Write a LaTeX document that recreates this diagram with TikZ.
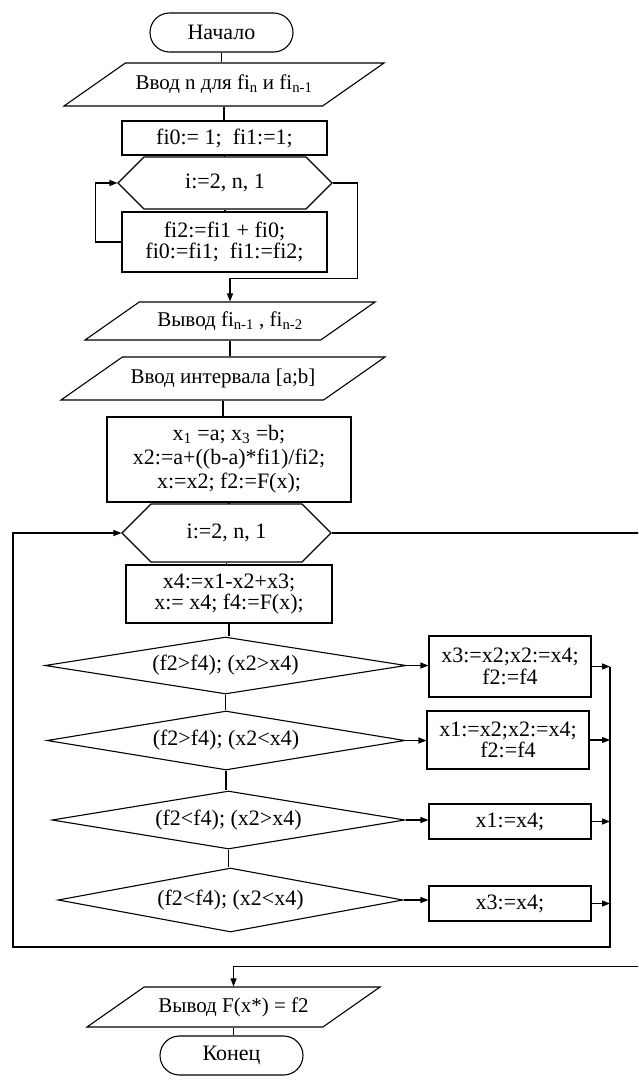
\documentclass[tikz,border=0pt]{standalone}
\usepackage{fontspec}
\setmainfont{Liberation Serif}
\usetikzlibrary{shapes.geometric,shapes.misc,arrows.meta}

\begin{document}
\begin{tikzpicture}[x=1pt,y=-1pt,line width=1.1pt,
    every node/.style={font=\fontsize{22}{21.5}\selectfont, inner sep=0pt, align=center},
    terminal/.style ={rounded rectangle, draw, minimum width=143pt, minimum height=39pt},
    process/.style ={rectangle, draw, minimum width=205pt},
    datablock/.style ={trapezium, trapezium left angle=35, trapezium right angle=145,
        trapezium stretches body, draw, text height=15pt, text depth=5pt,
        font=\fontsize{21}{21}\selectfont},
    cycle/.style ={chamfered rectangle, chamfered rectangle xsep=42pt, draw},
    condition/.style ={diamond, aspect=6, draw},
    arrow/.style ={-{Triangle[length=8pt,width=6pt]}}]
   \clip (0,0) rectangle (638,1082);
   % upper part: Fibonacci numbers
   \node[terminal] (start) at (221.5,32.5) {Начало};
   \node[datablock, minimum width=320pt, inner ysep=11.5pt] (in1) at (224,84.5)
        {Ввод n для fi\textsubscript{n}  и fi\textsubscript{n-1}};
   \node[process, minimum height=34pt] (fib0) at (224.5,138) {fi0:= 1;\ \ fi1:=1;};
   \node[cycle, chamfered rectangle ysep=17pt, minimum width=214pt, minimum height=34pt]
        (hex1) at (225,183) {i:=2, n, 1};
   \node[process, minimum height=60pt] (fib2) at (224.5,242) {fi2:=fi1 + fi0;\\ fi0:=fi1;\ \ fi1:=fi2;};
   \node[datablock, minimum width=290pt, inner ysep=9pt] (out1) at (230,321)
        {Вывод fi\textsubscript{n-1} , fi\textsubscript{n-2}};
   \node[datablock, minimum width=324pt, inner ysep=11.5pt] (in2) at (223,378.5)
        {Ввод интервала [a;b]};
   \node[process, minimum width=244pt, minimum height=85pt, font=\fontsize{22}{24}\selectfont]
        (init) at (229,459.5)
        {x\textsubscript{1} =a; x\textsubscript{3} =b;\\ x2:=a+((b-a)*fi1)/fi2;\\ x:=x2; f2:=F(x);};
   % lower part: search loop
   \node[cycle, chamfered rectangle ysep=20pt, minimum width=209pt, minimum height=40pt]
        (hex2) at (226.5,533) {i:=2, n, 1};
   \node[process, minimum width=206pt, minimum height=58pt] (step4) at (229,594)
        {x4:=x1-x2+x3;\\ x:= x4; f4:=F(x);};
   \node[condition, minimum width=361pt, minimum height=57pt] (d1) at (225.5,665.5) {(f2>f4); (x2>x4)};
   \node[condition, minimum width=358pt, minimum height=59pt] (d2) at (226,740.5) {(f2>f4); (x2<x4)};
   \node[condition, minimum width=353pt, minimum height=58pt] (d3) at (228.5,820) {(f2<f4); (x2>x4)};
   \node[condition, minimum width=345pt, minimum height=64pt] (d4) at (230.5,900) {(f2<f4); (x2<x4)};
   \node[process, minimum width=162pt, minimum height=61pt] (r1) at (510,666.5) {x3:=x2;x2:=x4;\\ f2:=f4};
   \node[process, minimum width=162pt, minimum height=58pt] (r2) at (508,740) {x1:=x2;x2:=x4;\\ f2:=f4};
   \node[process, minimum width=162pt, minimum height=35pt] (r3) at (510,821.5) {x1:=x4;};
   \node[process, minimum width=162pt, minimum height=35pt] (r4) at (510,903.5) {x3:=x4;};
   \node[datablock, minimum width=293pt, inner ysep=10pt] (out2) at (233.5,1007)
        {Вывод F(x*) = f2};
   \node[terminal] (stop) at (231.5,1055.5) {Конец};
   \coordinate (colTop) at (610,667);
   \coordinate (colBot) at (610,947);
   \coordinate (loopBL) at (13,947);
   % connectors
   \draw (start.south) to (start.south |- in1.north);
   \draw (in1.south) to (in1.south |- fib0.north);
   \draw (fib0.south) to (fib0.south |- hex1.north);
   \draw (hex1.south) to (hex1.south |- fib2.north);
   \draw[arrow] (fib2.west) -- ++(-26,0) |- (hex1.west);
   \draw[arrow] (hex1.east) -- ++(25,0) |- ([yshift=23pt]out1.north) -- (out1.north);
   \draw (out1.south) to (out1.south |- in2.north);
   \draw (in2.south) to (in2.south |- init.north);
   \draw (init.south) to (init.south |- hex2.north);
   \draw (hex2.south) to (hex2.south |- step4.north);
   \draw (step4.south) to (step4.south |- d1.north);
   \draw (d1.south) to (d1.south |- d2.north);
   \draw (d2.south) to (d2.south |- d3.north);
   \draw (d3.south) to (d3.south |- d4.north);
   \draw[arrow] (d1.east) to (d1.east -| r1.west);
   \draw[arrow] (d2.east) to (d2.east -| r2.west);
   \draw[arrow] (d3.east) to (d3.east -| r3.west);
   \draw[arrow] (d4.east) to (d4.east -| r4.west);
   \draw[arrow] (r1.east) to (r1.east -| colTop);
   \draw[arrow] (r2.east) to (r2.east -| colTop);
   \draw[arrow] (r3.east) to (r3.east -| colTop);
   \draw[arrow] (r4.east) to (r4.east -| colTop);
   \draw[arrow] (colTop) -- (colBot) -- (loopBL) |- (hex2.west);
   \draw[arrow] (hex2.east) -- ++(314,0) |- ([yshift=20pt]out2.north) -- (out2.north);
   \draw (out2.south) to (out2.south |- stop.north);
 \end{tikzpicture}
\end{document}
